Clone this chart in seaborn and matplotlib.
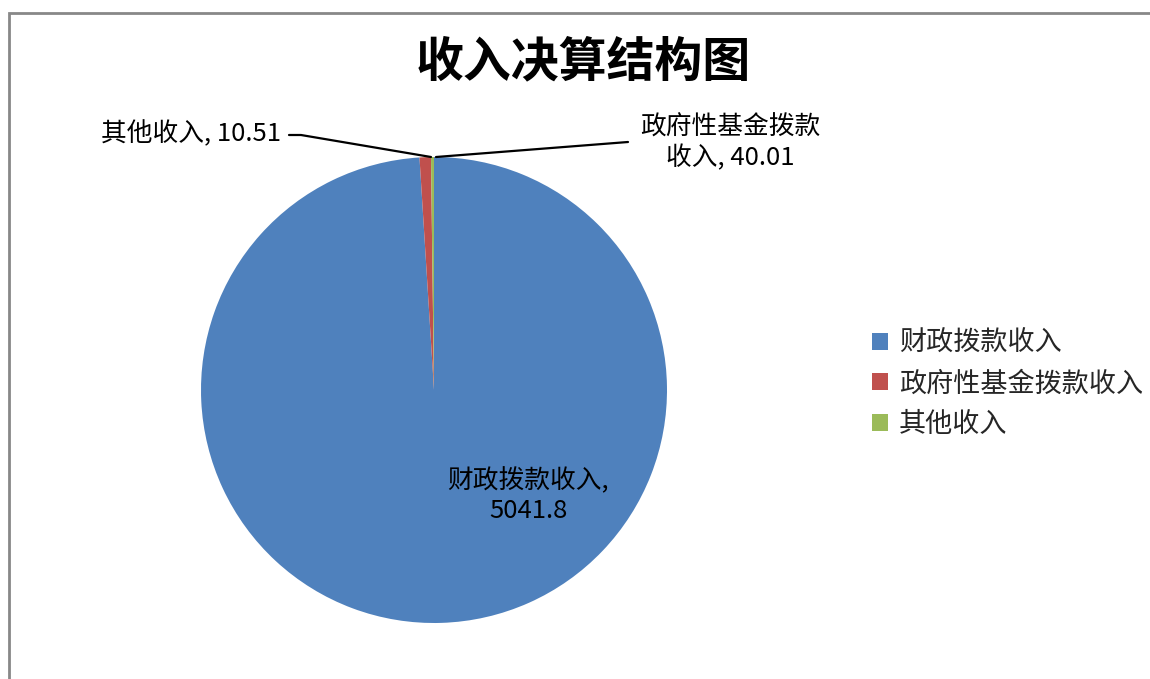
import matplotlib
matplotlib.use("Agg")
import matplotlib.pyplot as plt
import seaborn as sns
from matplotlib.patches import Rectangle

categories = ["财政拨款收入", "政府性基金拨款收入", "其他收入"]
values = [5041.8, 40.01, 10.51]
colors = ["#4F81BD", "#C0504D", "#9BBB59"]
title = "收入决算结构图"

sns.set_theme(style="white")
plt.rcParams["font.family"] = ["Noto Sans CJK SC", "DejaVu Sans"]

W, H = 1150, 679
fig = plt.figure(figsize=(W / 100, H / 100), dpi=100)
ax = fig.add_axes([0, 0, 1, 1])
ax.set_xlim(0, W)
ax.set_ylim(0, H)
ax.axis("off")

def Y(y):
    return H - y

cx, cy, r = 434, 390, 233
wedges, _ = ax.pie(values, colors=colors, startangle=90, counterclock=False,
                   center=(cx, Y(cy)), radius=r, frame=True,
                   wedgeprops=dict(linewidth=0))
ax.set_xlim(0, W)
ax.set_ylim(0, H)
ax.set_aspect("equal")
ax.axis("off")

# chart border
ax.add_patch(Rectangle((9, Y(H + 20)), W + 20, (H + 20) - 13, fill=False,
                       edgecolor="#888888", linewidth=2, clip_on=False))

ax.text(583, Y(62), title, ha="center", va="center", fontsize=34.5,
        fontweight="bold", color="black")

lab_fs = 18.5
# data labels
ax.text(528, Y(496), f"{categories[0]},\n{values[0]}", ha="center", va="center",
        fontsize=lab_fs, color="black", linespacing=1.2)
ax.text(730, Y(143), "政府性基金拨款\n收入, " + f"{values[1]}", ha="center",
        va="center", fontsize=lab_fs, color="black", linespacing=1.2)
ax.text(281, Y(134), f"{categories[2]}, {values[2]}", ha="right", va="center",
        fontsize=lab_fs, color="black")

# leader lines
ax.plot([289, 301, 431], [Y(135), Y(135), Y(157)], color="black", lw=1.6)
ax.plot([436, 628], [Y(157), Y(142)], color="black", lw=1.6)

leg = ax.legend(wedges, categories, loc="upper left",
                bbox_to_anchor=(861 / W, 1 - 319 / H), frameon=False,
                fontsize=19.5, handlelength=0.6, handleheight=0.6,
                handletextpad=0.4, labelspacing=0.5, borderaxespad=0)

fig.savefig("out.png", dpi=100)
